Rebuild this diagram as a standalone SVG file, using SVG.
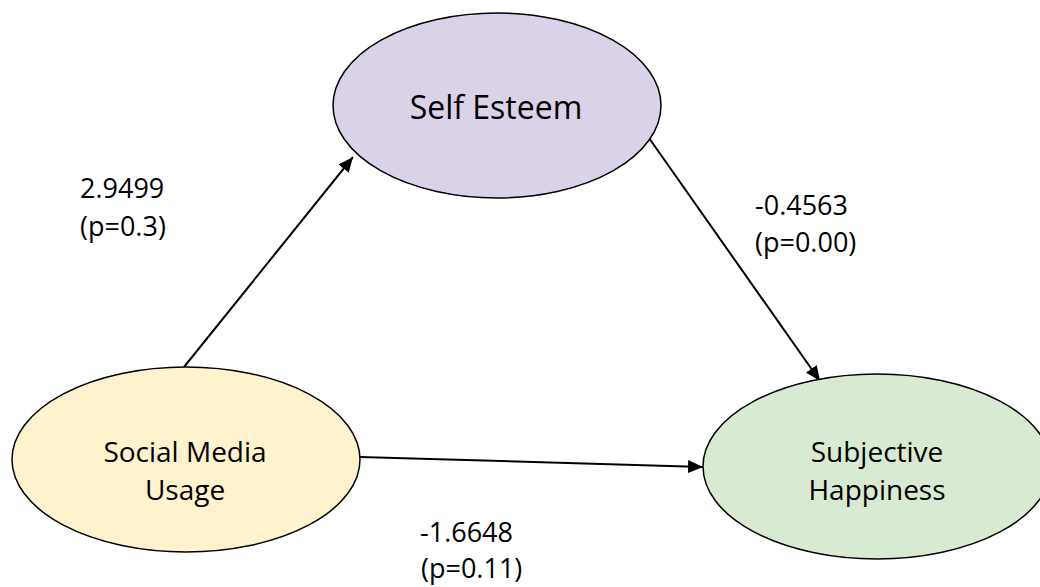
<svg xmlns="http://www.w3.org/2000/svg" width="1040" height="587" viewBox="0 0 1040 587">
<style>
.node{stroke:#000;stroke-width:1.5}
.nt{font-family:"Open Sans","Liberation Sans",sans-serif;fill:#000;text-anchor:middle}
.lbl{font-family:"Open Sans","Liberation Sans",sans-serif;font-size:27px;fill:#000}
.edge{stroke:#000;stroke-width:2;fill:none;marker-end:url(#arr)}
</style>
<defs>
<marker id="arr" markerUnits="userSpaceOnUse" markerWidth="16" markerHeight="14" refX="15" refY="6.5" orient="auto">
<path d="M0,0 L15,6.5 L0,13 z" fill="#000"/>
</marker>
</defs>
<rect width="1040" height="587" fill="#fff"/>
<g id="connectors">
<line class="edge" x1="184" y1="367" x2="353" y2="157"/>
<line class="edge" x1="649" y1="138" x2="820" y2="381"/>
<line class="edge" x1="360" y1="457" x2="703" y2="467"/>
</g>
<g id="self-esteem">
<ellipse class="node" cx="497" cy="105.5" rx="164" ry="92.5" fill="#d9d2e9"/>
<text class="nt" x="496" y="119" font-size="32">Self Esteem</text>
</g>
<g id="social-media-usage">
<ellipse class="node" cx="186" cy="459.5" rx="174" ry="92.5" fill="#fff2cc"/>
<text class="nt" x="185" y="462" font-size="28">Social Media</text>
<text class="nt" x="185" y="500" font-size="28">Usage</text>
</g>
<g id="subjective-happiness">
<ellipse class="node" cx="877" cy="466.5" rx="174" ry="92.5" fill="#d9ead3"/>
<text class="nt" x="877" y="462" font-size="28">Subjective</text>
<text class="nt" x="877" y="500" font-size="28">Happiness</text>
</g>
<g id="labels">
<text class="lbl" x="80" y="198">2.9499</text>
<text class="lbl" x="80" y="236">(p=0.3)</text>
<text class="lbl" x="755" y="215">-0.4563</text>
<text class="lbl" x="755" y="252">(p=0.00)</text>
<text class="lbl" x="420" y="542">-1.6648</text>
<text class="lbl" x="421" y="578">(p=0.11)</text>
</g>
</svg>
